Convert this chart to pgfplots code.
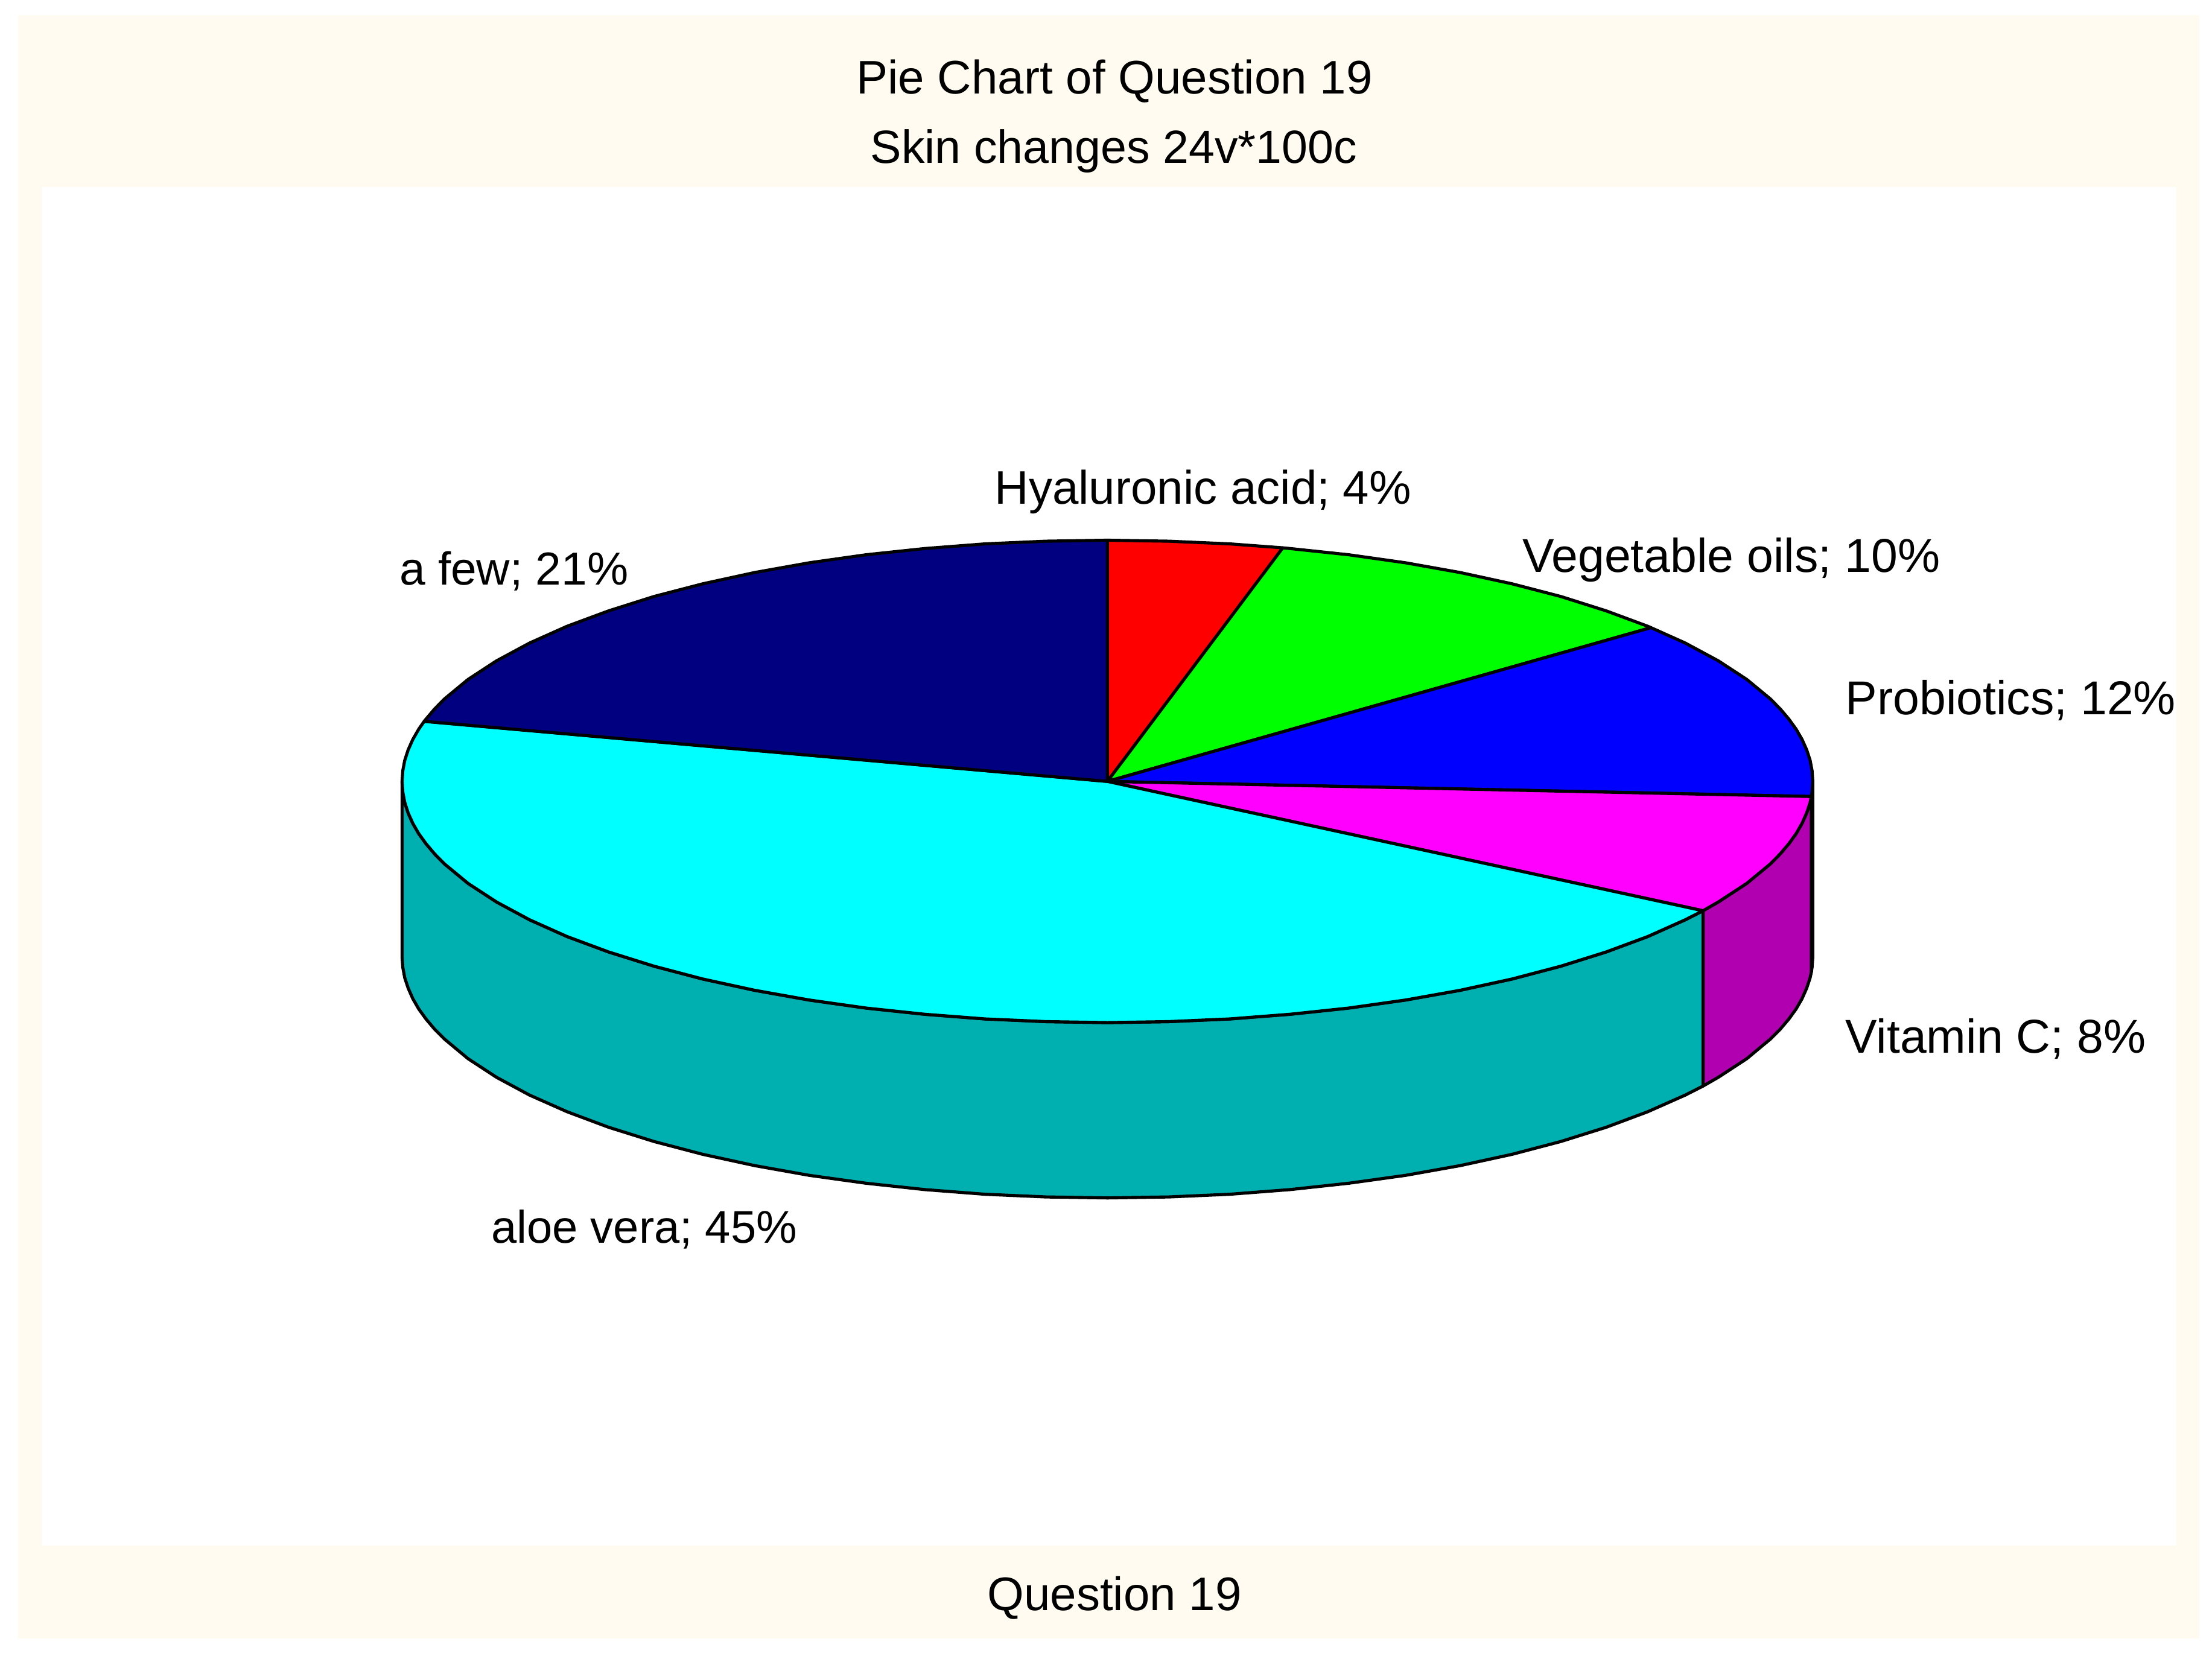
\documentclass[border=0pt]{standalone}
\usepackage{fontspec}
\setmainfont{Liberation Sans}
\usepackage{pgfplots}
\pgfplotsset{compat=1.18}
\definecolor{creambg}{HTML}{FFFBF0}
\definecolor{tealside}{HTML}{00B0B0}
\definecolor{magside}{HTML}{B000B0}
\definecolor{blueside}{HTML}{0000B0}
\definecolor{navytop}{HTML}{000080}
\definecolor{purered}{HTML}{FF0000}
\definecolor{puregreen}{HTML}{00FF00}
\definecolor{pureblue}{HTML}{0000FF}
\definecolor{puremagenta}{HTML}{FF00FF}
\definecolor{purecyan}{HTML}{00FFFF}
\tikzset{
  slice/.style={draw=black, line width=2.2pt},
  lab/.style={anchor=base west, inner sep=0pt},
  ttl/.style={anchor=base, inner sep=0pt},
}
\newcommand{\fs}[1]{\fontsize{#1}{40}\selectfont}
\begin{document}
\begin{tikzpicture}
\begin{axis}[
  scale only axis, width=1568pt, height=1176pt,
  xmin=0, xmax=1568, ymin=0, ymax=1176, y dir=reverse,
  hide axis, clip=false,
  every axis plot/.append style={no markers, line join=round},
]
% backgrounds
\addplot[fill=white, draw=none] coordinates {(0,0)(1568,0)(1568,1176)(0,1176)} --cycle;
\addplot[fill=creambg, draw=none] coordinates {(12.8,10.7)(1559,10.7)(1559,1161.6)(12.8,1161.6)} --cycle;
\addplot[fill=white, draw=none] coordinates {(30,132.6)(1542.8,132.6)(1542.8,1095.8)(30,1095.8)} --cycle;
% side walls
\addplot[slice, fill=blueside] coordinates {(1285,554)(1284.5,561.5)(1284,564.7)(1284,689)(1284.5,685.7)(1285,678.3)} --cycle;
\addplot[slice, fill=magside] coordinates {(1284,564.7)(1283.1,568.9)(1280.7,576.3)(1277.4,583.7)(1273.2,591)(1268,598.2)(1261.9,605.4)(1254.9,612.5)(1238.2,626.3)(1218,639.5)(1207.2,645.7)
  (1207.2,770)(1218,763.8)(1238.2,750.6)(1254.9,736.7)(1261.9,729.7)(1268,722.5)(1273.2,715.3)(1277.4,708)(1280.7,700.5)(1283.1,693.2)(1284,689)} --cycle;
\addplot[slice, fill=tealside] coordinates {(1207.2,645.7)(1194.6,652.1)(1168,664)(1138.6,674.9)(1106.4,685)(1071.8,694.1)(1035,702.1)(996.3,709)(956,714.7)(914.4,719.1)(871.8,722.4)(828.6,724.3)(785,725)(741.4,724.3)(698.2,722.4)(655.6,719.1)(614,714.7)(573.7,709)(535,702.1)(498.2,694.1)(463.6,685)(431.4,674.9)(402,664)(375.4,652.1)(352,639.5)(331.8,626.3)(315.1,612.5)(308.1,605.4)(302,598.2)(296.8,591)(292.6,583.7)(289.3,576.3)(286.9,568.9)(285.5,561.5)(285,554)
  (285,678.3)(285.5,685.7)(286.9,693.2)(289.3,700.5)(292.6,708)(296.8,715.3)(302,722.5)(308.1,729.7)(315.1,736.7)(331.8,750.6)(352,763.8)(375.4,776.4)(402,788.2)(431.4,799.2)(463.6,809.3)(498.2,818.4)(535,826.4)(573.7,833.3)(614,838.9)(655.6,843.4)(698.2,846.7)(741.4,848.6)(785,849.3)(828.6,848.6)(871.8,846.7)(914.4,843.4)(956,838.9)(996.3,833.3)(1035,826.4)(1071.8,818.4)(1106.4,809.3)(1138.6,799.2)(1168,788.2)(1194.6,776.4)(1207.2,770)} --cycle;
% top slices: Hyaluronic acid 4, Vegetable oils 10, Probiotics 12, Vitamin C 8, aloe vera 45, a few 21
\addplot[slice, fill=purered] coordinates {(785,554)(785,383)(828.6,383.7)(871.8,385.6)(909.3,388.4)} --cycle;
\addplot[slice, fill=puregreen] coordinates {(785,554)(909.3,388.4)(914.4,388.9)(956,393.3)(996.3,399)(1035,405.9)(1071.8,413.9)(1106.4,422.9)(1138.6,433.1)(1168,444)(1170.3,445)} --cycle;
\addplot[slice, fill=pureblue] coordinates {(785,554)(1170.3,445)(1194.6,455.9)(1218,468.5)(1238.2,481.7)(1254.9,495.5)(1261.9,502.6)(1268,509.8)(1273.2,517)(1277.4,524.3)(1280.7,531.7)(1283.1,539.1)(1284.5,546.5)(1285,554)(1284.5,561.5)(1284,564.7)} --cycle;
\addplot[slice, fill=puremagenta] coordinates {(785,554)(1284,564.7)(1283.1,568.9)(1280.7,576.3)(1277.4,583.7)(1273.2,591)(1268,598.2)(1261.9,605.4)(1254.9,612.5)(1238.2,626.3)(1218,639.5)(1207.2,645.7)} --cycle;
\addplot[slice, fill=purecyan] coordinates {(785,554)(1207.2,645.7)(1194.6,652.1)(1168,664)(1138.6,674.9)(1106.4,685)(1071.8,694.1)(1035,702.1)(996.3,709)(956,714.7)(914.4,719.1)(871.8,722.4)(828.6,724.3)(785,725)(741.4,724.3)(698.2,722.4)(655.6,719.1)(614,714.7)(573.7,709)(535,702.1)(498.2,694.1)(463.6,685)(431.4,674.9)(402,664)(375.4,652.1)(352,639.5)(331.8,626.3)(315.1,612.5)(308.1,605.4)(302,598.2)(296.8,591)(292.6,583.7)(289.3,576.3)(286.9,568.9)(285.5,561.5)(285,554)(285.5,546.5)(286.9,539.1)(289.3,531.7)(292.6,524.3)(296.8,517)(300.7,511.4)} --cycle;
\addplot[slice, fill=navytop] coordinates {(785,554)(300.7,511.4)(302,509.8)(308.1,502.6)(315.1,495.5)(331.8,481.7)(352,468.5)(375.4,455.9)(402,444)(431.4,433.1)(463.6,422.9)(498.2,413.9)(535,405.9)(573.7,399)(614,393.3)(655.6,388.9)(698.2,385.6)(741.4,383.7)(785,383)} --cycle;
% text
\node[ttl] at (axis cs:790,66.7) {\fs{33.4}Pie Chart of Question 19};
\node[ttl] at (axis cs:789.5,115.7) {\fs{33}Skin changes 24v*100c};
\node[ttl] at (axis cs:790,1141.7) {\fs{33.4}Question 19};
\node[lab] at (axis cs:705,357.5) {\fs{33.4}Hyaluronic acid; 4\%};
\node[lab] at (axis cs:1079,405.5) {\fs{33.7}Vegetable oils; 10\%};
\node[lab] at (axis cs:1308,506.5) {\fs{33.7}Probiotics; 12\%};
\node[lab] at (axis cs:1308,746.5) {\fs{33.7}Vitamin C; 8\%};
\node[lab] at (axis cs:348,881.5) {\fs{32.5}aloe vera; 45\%};
\node[lab] at (axis cs:283,414.5) {\fs{32.8}a few; 21\%};
\end{axis}
\end{tikzpicture}
\end{document}
